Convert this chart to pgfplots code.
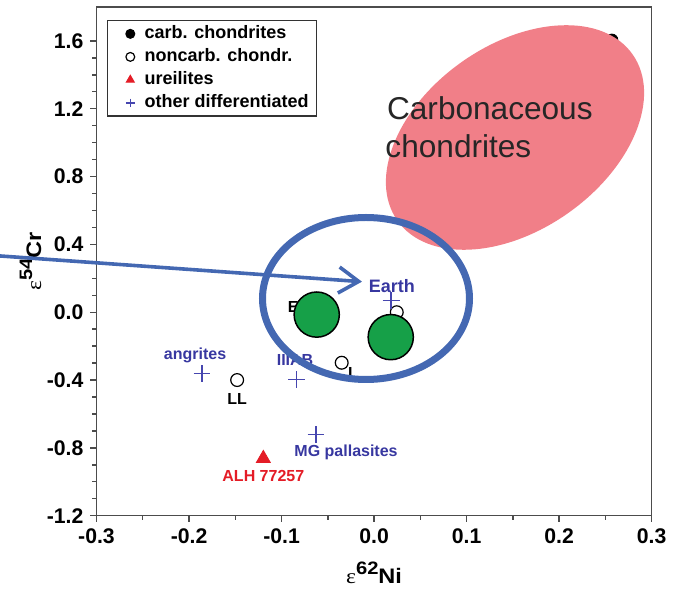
\documentclass[border=0pt]{standalone}
\usepackage{fontspec}
\setmainfont{Liberation Sans}
\newfontfamily\serif{Liberation Serif}
\usepackage{graphicx}
\usepackage{pgfplots}
\pgfplotsset{compat=1.18}
\usetikzlibrary{arrows.meta}
\definecolor{pinkc}{RGB}{241,127,136}
\definecolor{bluec}{RGB}{68,104,178}
\definecolor{labblue}{RGB}{55,55,160}
\definecolor{plusblue}{RGB}{70,70,175}
\definecolor{redc}{RGB}{228,28,38}
\definecolor{greenc}{RGB}{22,160,72}
\newcommand{\isolabel}[2]{\scalebox{1.12}[1]{{\fontsize{10.5}{12}\selectfont\serif ε}\raisebox{0.45em}{\fontsize{9}{10}\selectfont\bfseries #1}{\fontsize{10.5}{12}\selectfont\bfseries #2}}}
\begin{document}
\begin{tikzpicture}
\useasboundingbox (-48.25pt,-36.65pt) rectangle (292.75pt,257.85pt);
\begin{axis}[
  at={(0pt,0pt)}, anchor=south west,
  scale only axis, width=277.6pt, height=254.35pt,
  xmin=-0.3, xmax=0.3, ymin=-1.2, ymax=1.8,
  xtick={-0.3,-0.2,-0.1,0,0.1,0.2,0.3},
  ytick={-1.2,-0.8,-0.4,0,0.4,0.8,1.2,1.6},
  minor x tick num=1, minor y tick num=3,
  tick align=outside, xtick pos=lower, ytick pos=left,
  major tick length=3pt, minor tick length=2pt,
  tick style={black!70, line width=0.7pt},
  axis line style={black!70, line width=0.7pt},
  ticklabel style={font=\bfseries\fontsize{10.6}{12}\selectfont},
  /pgf/number format/fixed, /pgf/number format/fixed zerofill,
  /pgf/number format/precision=1, /pgf/number format/assume math mode=true,
  xlabel={\isolabel{62}{Ni}},
  ylabel={\isolabel{54}{Cr}},
  every axis x label/.style={at={(axis description cs:0.5,-0.113)}, anchor=center, inner sep=0.5pt},
  every axis y label/.style={at={(axis description cs:-0.119,0.5)}, anchor=center, rotate=90, inner sep=0.5pt},
  legend style={at={(rel axis cs:0.0184,0.974)}, anchor=north west, draw=black!80,
    line width=0.6pt, font=\bfseries\fontsize{9}{10}\selectfont, row sep=-0.5pt,
    inner xsep=2pt, inner ysep=0.5pt},
  legend cell align=left,
  legend image code/.code={\path[draw=none] (0pt,0pt) (14.7pt,0pt); \draw[#1] plot coordinates {(9.5pt,0pt)};},
  legend image post style={mark size=2.2pt},
]
\addplot[only marks, mark=*, mark size=3pt, black] coordinates {(0.257,1.605)};
\addlegendentry{carb. chondrites}
\addplot[only marks, mark=o, mark size=3.2pt, black, line width=0.6pt] coordinates {(-0.148,-0.40) (-0.035,-0.298) (0.0245,0.0) (-0.068,0.02)};
\addlegendentry{noncarb. chondr.}
\addplot[only marks, mark=triangle*, mark size=4pt, redc] coordinates {(-0.1197,-0.862)};
\addlegendentry{ureilites}
\addplot[only marks, mark=+, mark size=4.2pt, plusblue, line width=0.7pt] coordinates {(-0.186,-0.362) (-0.0836,-0.398) (-0.0627,-0.721) (0.0184,0.069)};
\addlegendentry{other differentiated}
\begin{scope}[font=\bfseries\fontsize{8}{9}\selectfont]
\node[labblue] at (axis cs:-0.1935,-0.255) {angrites};
\node[black] at (axis cs:-0.148,-0.514) {LL};
\node[labblue] at (axis cs:-0.0854,-0.28) {IIIAB};
\node[black] at (axis cs:-0.0227,-0.36) {L};
\node[labblue] at (axis cs:-0.0303,-0.824) {MG pallasites};
\node[redc] at (axis cs:-0.1197,-0.965) {ALH 77257};
\node[labblue, font=\bfseries\fontsize{9}{10}\selectfont] at (axis cs:0.0191,0.157) {Earth};
\node[black] at (axis cs:-0.0875,0.03) {E};
\end{scope}
\addplot[only marks, mark=*, mark size=11.3pt, fill=greenc, draw=black, line width=0.75pt, forget plot] coordinates {(-0.062,-0.014) (0.018,-0.147)};
\end{axis}
\fill[pinkc, rotate around={35.3:(209.25pt,189.1pt)}] (209.25pt,189.1pt) ellipse (72pt and 46.2pt);
\node[anchor=base west, font=\fontsize{15.8}{19}\selectfont, text=black!85, inner sep=0pt] at (145.1pt,197.85pt) {Carbonaceous};
\node[anchor=base west, font=\fontsize{15.8}{19}\selectfont, text=black!85, inner sep=0pt] at (144.3pt,178.85pt) {chondrites};
\draw[bluec, line width=3.5pt] (134.75pt,108.6pt) ellipse (51.75pt and 40.5pt);
\draw[bluec, line width=1.8pt, -{Straight Barb[length=10pt,width=13pt]}] (-50.75pt,130.05pt) -- (132.75pt,117pt);
\end{tikzpicture}
\end{document}
